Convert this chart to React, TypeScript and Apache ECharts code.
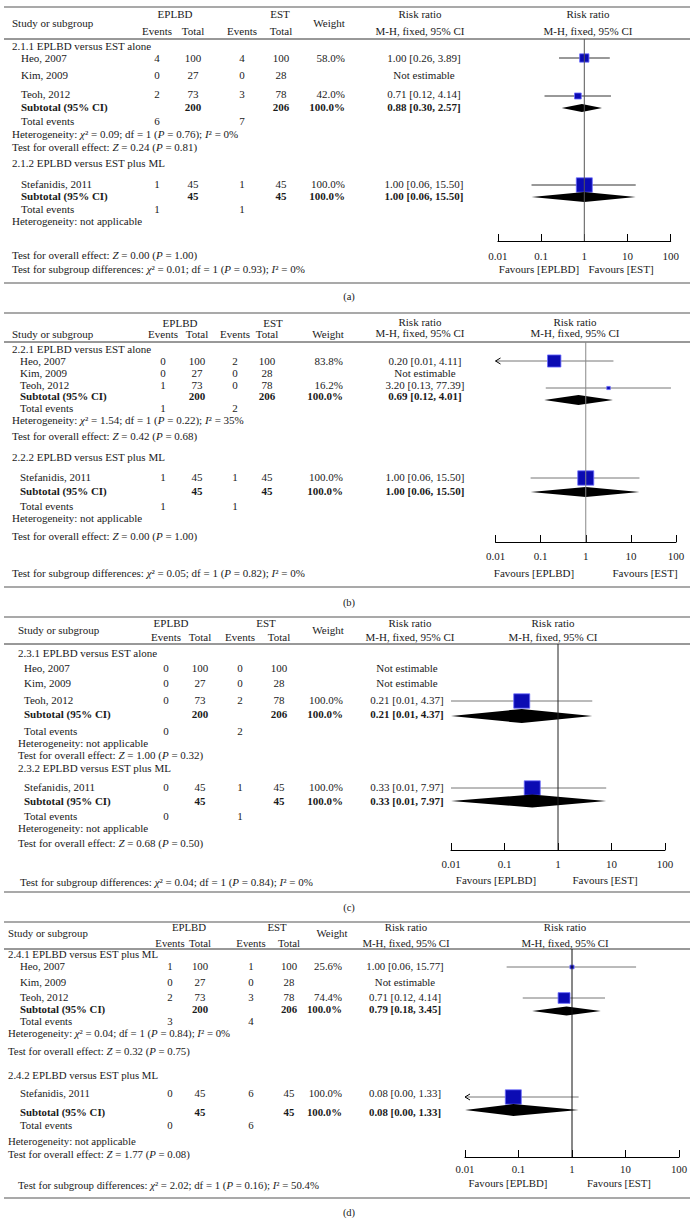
import React, { useEffect, useRef } from "react";
import * as echarts from "echarts";

// ---------- data ----------
const STUDIES = ["Heo, 2007", "Kim, 2009", "Teoh, 2012", "Stefanidis, 2011"];
const TICK_LABELS = ["0.01", "0.1", "1", "10", "100"];
const PANEL_TAGS = ["(a)", "(b)", "(c)", "(d)"];

// Panel (a)
const A_TITLES = ["2.1.1 EPLBD versus EST alone", "2.1.2 EPLBD versus EST plus ML"];
const A_EPLBD_EVENTS = [4, 0, 2, 1];
const A_EPLBD_TOTAL = [100, 27, 73, 45];
const A_EST_EVENTS = [4, 0, 3, 1];
const A_EST_TOTAL = [100, 28, 78, 45];
const A_WEIGHT = [58.0, null, 42.0, 100.0];
const A_RR = [1.0, null, 0.71, 1.0];
const A_LOW = [0.26, null, 0.12, 0.06];
const A_HIGH = [3.89, null, 4.14, 15.5];
const A_ARROW = [false, false, false, false];
const A_SUB_RR = [0.88, 1.0];
const A_SUB_LOW = [0.3, 0.06];
const A_SUB_HIGH = [2.57, 15.5];
const A_SUB_EPLBD_TOTAL = [200, 45];
const A_SUB_EST_TOTAL = [206, 45];
const A_EVENTS_EPLBD = [6, 1];
const A_EVENTS_EST = [7, 1];
const A_HET = ["{i|χ}² = 0.09; df = 1 ({i|P} = 0.76); {i|I}² = 0%", "not applicable"];
const A_Z = ["0.24", "0.00"];
const A_P = ["0.81", "1.00"];
const A_DIFF = "{i|χ}² = 0.01; df = 1 ({i|P} = 0.93); {i|I}² = 0%";

// Panel (b)
const B_TITLES = ["2.2.1 EPLBD versus EST alone", "2.2.2 EPLBD versus EST plus ML"];
const B_EPLBD_EVENTS = [0, 0, 1, 1];
const B_EPLBD_TOTAL = [100, 27, 73, 45];
const B_EST_EVENTS = [2, 0, 0, 1];
const B_EST_TOTAL = [100, 28, 78, 45];
const B_WEIGHT = [83.8, null, 16.2, 100.0];
const B_RR = [0.2, null, 3.2, 1.0];
const B_LOW = [0.01, null, 0.13, 0.06];
const B_HIGH = [4.11, null, 77.39, 15.5];
const B_ARROW = [true, false, false, false];
const B_SUB_RR = [0.69, 1.0];
const B_SUB_LOW = [0.12, 0.06];
const B_SUB_HIGH = [4.01, 15.5];
const B_SUB_EPLBD_TOTAL = [200, 45];
const B_SUB_EST_TOTAL = [206, 45];
const B_EVENTS_EPLBD = [1, 1];
const B_EVENTS_EST = [2, 1];
const B_HET = ["{i|χ}² = 1.54; df = 1 ({i|P} = 0.22); {i|I}² = 35%", "not applicable"];
const B_Z = ["0.42", "0.00"];
const B_P = ["0.68", "1.00"];
const B_DIFF = "{i|χ}² = 0.05; df = 1 ({i|P} = 0.82); {i|I}² = 0%";

// Panel (c)
const C_TITLES = ["2.3.1 EPLBD versus EST alone", "2.3.2 EPLBD versus EST plus ML"];
const C_EPLBD_EVENTS = [0, 0, 0, 0];
const C_EPLBD_TOTAL = [100, 27, 73, 45];
const C_EST_EVENTS = [0, 0, 2, 1];
const C_EST_TOTAL = [100, 28, 78, 45];
const C_WEIGHT = [null, null, 100.0, 100.0];
const C_RR = [null, null, 0.21, 0.33];
const C_LOW = [null, null, 0.01, 0.01];
const C_HIGH = [null, null, 4.37, 7.97];
const C_ARROW = [false, false, false, false];
const C_SUB_RR = [0.21, 0.33];
const C_SUB_LOW = [0.01, 0.01];
const C_SUB_HIGH = [4.37, 7.97];
const C_SUB_EPLBD_TOTAL = [200, 45];
const C_SUB_EST_TOTAL = [206, 45];
const C_EVENTS_EPLBD = [0, 0];
const C_EVENTS_EST = [2, 1];
const C_HET = ["not applicable", "not applicable"];
const C_Z = ["1.00", "0.68"];
const C_P = ["0.32", "0.50"];
const C_DIFF = "{i|χ}² = 0.04; df = 1 ({i|P} = 0.84); {i|I}² = 0%";

// Panel (d)
const D_TITLES = ["2.4.1 EPLBD versus EST plus ML", "2.4.2 EPLBD versus EST plus ML"];
const D_EPLBD_EVENTS = [1, 0, 2, 0];
const D_EPLBD_TOTAL = [100, 27, 73, 45];
const D_EST_EVENTS = [1, 0, 3, 6];
const D_EST_TOTAL = [100, 28, 78, 45];
const D_WEIGHT = [25.6, null, 74.4, 100.0];
const D_RR = [1.0, null, 0.71, 0.08];
const D_LOW = [0.06, null, 0.12, 0.0];
const D_HIGH = [15.77, null, 4.14, 1.33];
const D_ARROW = [false, false, false, true];
const D_SUB_RR = [0.79, 0.08];
const D_SUB_LOW = [0.18, 0.0];
const D_SUB_HIGH = [3.45, 1.33];
const D_SUB_EPLBD_TOTAL = [200, 45];
const D_SUB_EST_TOTAL = [206, 45];
const D_EVENTS_EPLBD = [3, 0];
const D_EVENTS_EST = [4, 6];
const D_HET = ["{i|χ}² = 0.04; df = 1 ({i|P} = 0.84); {i|I}² = 0%", "not applicable"];
const D_Z = ["0.32", "1.77"];
const D_P = ["0.75", "0.08"];
const D_DIFF = "{i|χ}² = 2.02; df = 1 ({i|P} = 0.16); {i|I}² = 50.4%";

const PANEL_DATA = [
  { titles: A_TITLES, ee: A_EPLBD_EVENTS, et: A_EPLBD_TOTAL, se: A_EST_EVENTS, st: A_EST_TOTAL, w: A_WEIGHT, rr: A_RR, lo: A_LOW, hi: A_HIGH, arrow: A_ARROW, subRR: A_SUB_RR, subLo: A_SUB_LOW, subHi: A_SUB_HIGH, subET: A_SUB_EPLBD_TOTAL, subST: A_SUB_EST_TOTAL, teE: A_EVENTS_EPLBD, teS: A_EVENTS_EST, het: A_HET, z: A_Z, p: A_P, diff: A_DIFF },
  { titles: B_TITLES, ee: B_EPLBD_EVENTS, et: B_EPLBD_TOTAL, se: B_EST_EVENTS, st: B_EST_TOTAL, w: B_WEIGHT, rr: B_RR, lo: B_LOW, hi: B_HIGH, arrow: B_ARROW, subRR: B_SUB_RR, subLo: B_SUB_LOW, subHi: B_SUB_HIGH, subET: B_SUB_EPLBD_TOTAL, subST: B_SUB_EST_TOTAL, teE: B_EVENTS_EPLBD, teS: B_EVENTS_EST, het: B_HET, z: B_Z, p: B_P, diff: B_DIFF },
  { titles: C_TITLES, ee: C_EPLBD_EVENTS, et: C_EPLBD_TOTAL, se: C_EST_EVENTS, st: C_EST_TOTAL, w: C_WEIGHT, rr: C_RR, lo: C_LOW, hi: C_HIGH, arrow: C_ARROW, subRR: C_SUB_RR, subLo: C_SUB_LOW, subHi: C_SUB_HIGH, subET: C_SUB_EPLBD_TOTAL, subST: C_SUB_EST_TOTAL, teE: C_EVENTS_EPLBD, teS: C_EVENTS_EST, het: C_HET, z: C_Z, p: C_P, diff: C_DIFF },
  { titles: D_TITLES, ee: D_EPLBD_EVENTS, et: D_EPLBD_TOTAL, se: D_EST_EVENTS, st: D_EST_TOTAL, w: D_WEIGHT, rr: D_RR, lo: D_LOW, hi: D_HIGH, arrow: D_ARROW, subRR: D_SUB_RR, subLo: D_SUB_LOW, subHi: D_SUB_HIGH, subET: D_SUB_EPLBD_TOTAL, subST: D_SUB_EST_TOTAL, teE: D_EVENTS_EPLBD, teS: D_EVENTS_EST, het: D_HET, z: D_Z, p: D_P, diff: D_DIFF },
];

// ---------- layout (positions & styles) ----------
const LAYOUTS = [
  {
    ruleTop: 7, ruleHead: 39, ruleBottom: 283, caption: 296,
    hdr1: 14, hdrStudy: 23, hdr2: 31, hdrRR1: 14, hdrRR2: 31,
    xStudy: 12, xTitle: 12, xName: 21, xNote: 12, xDiff: 12,
    xEplbd: 175, xEst: 280, xWeight: 329, xE1: 157, xT1: 193, xE2: 242, xT2: 281, xWRight: 345, xRR: 424, xRRHdr: 420, xPlotHdr: 588,
    yTitle: [46, 163], yStudies: [58, 75, 94, 184], ySub: [107, 196], yTE: [121, 209], yHet: [134, 221], yOE: [147, 255], yDiff: 269,
    markerY: [58, 75, 96, 185], diamondY: [108, 197], diamondH: [8, 10],
    grid: { left: 497.9, width: 172.8, top: 39, bottom: 241 }, labelMargin: 9, favX: [539, 621], yFav: 269,
    font: 11, ciColor: "#333", vColor: "#555",
  },
  {
    ruleTop: 313, ruleHead: 342, ruleBottom: 587, caption: 602,
    hdr1: 323, hdrStudy: 334, hdr2: 334, hdrRR1: 322, hdrRR2: 333,
    xStudy: 12, xTitle: 12, xName: 20, xNote: 12, xDiff: 12,
    xEplbd: 180, xEst: 273, xWeight: 328, xE1: 163, xT1: 197, xE2: 235, xT2: 267, xWRight: 343, xRR: 425, xRRHdr: 420, xPlotHdr: 575,
    yTitle: [349, 457], yStudies: [361, 373, 385, 477], ySub: [396, 491], yTE: [408, 506], yHet: [420, 518], yOE: [436, 536], yDiff: 573,
    markerY: [361, 373, 388, 478], diamondY: [400, 492], diamondH: [10, 10],
    grid: { left: 495.5, width: 180.5, top: 342, bottom: 542 }, labelMargin: 8, favX: [534, 645], yFav: 573,
    font: 11, ciColor: "#777", vColor: "#888",
  },
  {
    ruleTop: 617, ruleHead: 644, ruleBottom: 892, caption: 907,
    hdr1: 623, hdrStudy: 630, hdr2: 637, hdrRR1: 623, hdrRR2: 637,
    xStudy: 18, xTitle: 18, xName: 24, xNote: 18, xDiff: 20,
    xEplbd: 171, xEst: 266, xWeight: 328, xE1: 166, xT1: 200, xE2: 240, xT2: 279, xWRight: 343, xRR: 407, xRRHdr: 410, xPlotHdr: 553,
    yTitle: [653, 768], yStudies: [668, 683, 700, 787], ySub: [714, 801], yTE: [731, 816], yHet: [743, 828], yOE: [755, 843], yDiff: 882,
    markerY: [668, 683, 701, 788], diamondY: [716, 801], diamondH: [14, 13],
    grid: { left: 451, width: 214, top: 644, bottom: 850 }, labelMargin: 8, favX: [496, 605], yFav: 880,
    font: 11, ciColor: "#777", vColor: "#222",
  },
  {
    ruleTop: 922, ruleHead: 949, ruleBottom: 1198, caption: 1212,
    hdr1: 927, hdrStudy: 933, hdr2: 943, hdrRR1: 927, hdrRR2: 943,
    xStudy: 8, xTitle: 8, xName: 20, xNote: 8, xDiff: 18,
    xEplbd: 189, xEst: 277, xWeight: 332, xE1: 170, xT1: 200, xE2: 251, xT2: 289, xWRight: 342, xRR: 405, xRRHdr: 406, xPlotHdr: 565,
    yTitle: [954, 1075], yStudies: [966, 982, 997, 1093], ySub: [1009, 1112], yTE: [1021, 1125], yHet: [1033, 1141], yOE: [1051, 1154], yDiff: 1185,
    markerY: [967, 982, 998, 1097], diamondY: [1011, 1110], diamondH: [9, 12],
    grid: { left: 465, width: 214, top: 949, bottom: 1157 }, labelMargin: 6, favX: [508, 619], yFav: 1183,
    font: 10.8, ciColor: "#777", vColor: "#111",
  },
];

const FAMILY = "Liberation Serif";
const TEXT_COLOR = "#1a1a1a";

function fmtRR(rr: number, lo: number, hi: number) {
  return `${rr.toFixed(2)} [${lo.toFixed(2)}, ${hi.toFixed(2)}]`;
}

function makeText(x: number, y: number, text: string, size: number, align = "left", bold = false) {
  return {
    type: "text",
    x,
    y,
    silent: true,
    style: {
      text,
      fontSize: size,
      fontFamily: FAMILY,
      fontWeight: bold ? "bold" : "normal",
      fill: TEXT_COLOR,
      align,
      verticalAlign: "middle",
      textAlign: align,
      textVerticalAlign: "middle",
      rich: {
        i: { fontSize: size, fontFamily: FAMILY, fontStyle: "italic", fill: TEXT_COLOR },
      },
    },
  };
}

function makeRule(y: number, color: string, width: number) {
  return {
    type: "line",
    silent: true,
    shape: { x1: 4, y1: y, x2: 690, y2: y },
    style: { stroke: color, lineWidth: width },
  };
}

function buildGraphics() {
  const els: any[] = [];
  PANEL_DATA.forEach((d, pi) => {
    const L: any = LAYOUTS[pi];
    const f = L.font;
    const T = (x: number, y: number, s: string, align = "left", bold = false) => els.push(makeText(x, y, s, f, align, bold));
    // rules
    els.push(makeRule(L.ruleTop, "#8c8c8c", 1.6));
    els.push(makeRule(L.ruleHead, "#333", 1));
    els.push(makeRule(L.ruleBottom, "#8c8c8c", 1.6));
    // headers
    T(L.xStudy, L.hdrStudy, "Study or subgroup");
    T(L.xEplbd, L.hdr1, "EPLBD", "center");
    T(L.xEst, L.hdr1, "EST", "center");
    T(L.xWeight, L.hdrStudy, "Weight", "center");
    T(L.xE1, L.hdr2, "Events", "center");
    T(L.xT1, L.hdr2, "Total", "center");
    T(L.xE2, L.hdr2, "Events", "center");
    T(L.xT2, L.hdr2, "Total", "center");
    T(L.xRRHdr, L.hdrRR1, "Risk ratio", "center");
    T(L.xRRHdr, L.hdrRR2, "M-H, fixed, 95% CI", "center");
    T(L.xPlotHdr, L.hdrRR1, "Risk ratio", "center");
    T(L.xPlotHdr, L.hdrRR2, "M-H, fixed, 95% CI", "center");
    // subgroups
    const groups = [[0, 1, 2], [3]];
    groups.forEach((idxs, g) => {
      T(L.xTitle, L.yTitle[g], d.titles[g]);
      idxs.forEach((i) => {
        const y = L.yStudies[i];
        T(L.xName, y, STUDIES[i]);
        T(L.xE1, y, String(d.ee[i]), "center");
        T(L.xT1, y, String(d.et[i]), "center");
        T(L.xE2, y, String(d.se[i]), "center");
        T(L.xT2, y, String(d.st[i]), "center");
        if (d.w[i] != null) T(L.xWRight, y, `${(d.w[i] as number).toFixed(1)}%`, "right");
        if (d.rr[i] != null) T(L.xRR, y, fmtRR(d.rr[i] as number, d.lo[i] as number, d.hi[i] as number), "center");
        else T(L.xRR, y, "Not estimable", "center");
      });
      const ys = L.ySub[g];
      T(L.xName, ys, "Subtotal (95% CI)", "left", true);
      T(L.xT1, ys, String(d.subET[g]), "center", true);
      T(L.xT2, ys, String(d.subST[g]), "center", true);
      T(L.xWRight, ys, "100.0%", "right", true);
      T(L.xRR, ys, fmtRR(d.subRR[g], d.subLo[g], d.subHi[g]), "center", true);
      const yt = L.yTE[g];
      T(L.xName, yt, "Total events");
      T(L.xE1, yt, String(d.teE[g]), "center");
      T(L.xE2, yt, String(d.teS[g]), "center");
      T(L.xNote, L.yHet[g], `Heterogeneity: ${d.het[g]}`);
      T(L.xNote, L.yOE[g], `Test for overall effect: {i|Z} = ${d.z[g]} ({i|P} = ${d.p[g]})`);
    });
    T(L.xDiff, L.yDiff, `Test for subgroup differences: ${d.diff}`);
    T(L.favX[0], L.yFav, "Favours [EPLBD]", "center");
    T(L.favX[1], L.yFav, "Favours [EST]", "center");
    els.push(makeText(349, L.caption, PANEL_TAGS[pi], 10.5, "center"));
  });
  return els;
}

function buildSeries() {
  const series: any[] = [];
  PANEL_DATA.forEach((d, pi) => {
    const L: any = LAYOUTS[pi];
    series.push({
      type: "line",
      xAxisIndex: pi,
      yAxisIndex: pi,
      data: [[1, L.grid.top], [1, L.grid.bottom]],
      symbol: "none",
      silent: true,
      lineStyle: { color: L.vColor, width: 1 },
    });
    const rows: number[][] = [];
    for (let i = 0; i < STUDIES.length; i++) {
      if (d.rr[i] == null) continue;
      rows.push([d.rr[i] as number, d.lo[i] as number, d.hi[i] as number, d.w[i] as number, L.markerY[i], 0, d.arrow[i] ? 1 : 0, i]);
    }
    for (let g = 0; g < 2; g++) {
      rows.push([d.subRR[g], d.subLo[g], d.subHi[g], 100, L.diamondY[g], 1, 0, g]);
    }
    series.push({
      type: "custom",
      coordinateSystem: "cartesian2d",
      xAxisIndex: pi,
      yAxisIndex: pi,
      encode: { x: 0, y: 4 },
      silent: true,
      data: rows,
      renderItem: (params: any, api: any) => {
        const rr = api.value(0);
        const lo = Math.max(api.value(1), 0.01);
        const hi = Math.min(api.value(2), 100);
        const w = api.value(3);
        const y = api.value(4);
        const kind = api.value(5);
        const arrow = api.value(6);
        const idx = api.value(7);
        const c = api.coord([rr, y]);
        const l = api.coord([lo, y]);
        const h = api.coord([hi, y]);
        if (kind === 1) {
          const dh = L.diamondH[idx];
          return {
            type: "polygon",
            shape: { points: [[l[0], c[1]], [c[0], c[1] - dh / 2], [h[0], c[1]], [c[0], c[1] + dh / 2]] },
            style: { fill: "#000" },
          };
        }
        const s = Math.max(3.5, (16 * w) / 100);
        const sh = s * 0.9;
        const children: any[] = [
          { type: "line", shape: { x1: l[0], y1: c[1], x2: h[0], y2: c[1] }, style: { stroke: L.ciColor, lineWidth: 1 } },
        ];
        if (arrow) {
          children.push({
            type: "polyline",
            shape: { points: [[l[0] + 5, c[1] - 3], [l[0], c[1]], [l[0] + 5, c[1] + 3]] },
            style: { stroke: "#000", lineWidth: 1, fill: "none" },
          });
        }
        children.push({
          type: "rect",
          shape: { x: c[0] - s / 2, y: c[1] - sh / 2, width: s, height: sh },
          style: { fill: "#0b0bb3", stroke: "#6b6bff", lineWidth: 0.8 },
        });
        return { type: "group", children };
      },
    });
  });
  return series;
}

function buildOption() {
  return {
    animation: false,
    backgroundColor: "#ffffff",
    grid: LAYOUTS.map((L) => ({
      left: L.grid.left,
      top: L.grid.top,
      width: L.grid.width,
      height: L.grid.bottom - L.grid.top,
      containLabel: false,
    })),
    xAxis: LAYOUTS.map((L, i) => ({
      type: "log",
      logBase: 10,
      gridIndex: i,
      min: 0.01,
      max: 100,
      position: "bottom",
      axisLine: { show: true, lineStyle: { color: "#000", width: 1 } },
      axisTick: { show: true, inside: true, length: 7, lineStyle: { color: "#000", width: 1 } },
      minorTick: { show: false },
      splitLine: { show: false },
      axisLabel: {
        margin: L.labelMargin,
        fontSize: L.font,
        fontFamily: FAMILY,
        color: TEXT_COLOR,
        formatter: (v: number) => TICK_LABELS[Math.round(Math.log10(v)) + 2] ?? "",
      },
    })),
    yAxis: LAYOUTS.map((L, i) => ({
      type: "value",
      gridIndex: i,
      min: L.grid.top,
      max: L.grid.bottom,
      inverse: true,
      show: false,
      splitLine: { show: false },
    })),
    series: buildSeries(),
    graphic: { elements: buildGraphics() },
  };
}

export default function App() {
  const ref = useRef<HTMLDivElement>(null);
  useEffect(() => {
    if (!ref.current) return;
    const chart = echarts.init(ref.current, undefined, { renderer: "svg" });
    chart.setOption(buildOption() as any);
    return () => chart.dispose();
  }, []);
  return (
    <div
      ref={ref}
      style={{ position: "absolute", left: 0, top: 0, width: 698, height: 1224, background: "#fff" }}
    />
  );
}
